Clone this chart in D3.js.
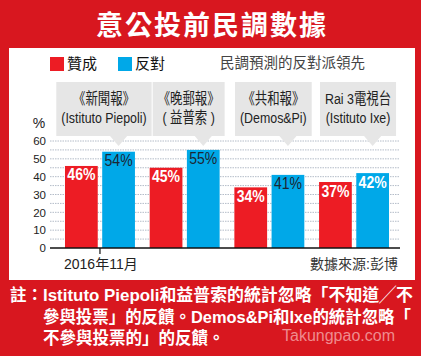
<!DOCTYPE html>
<html><head><meta charset="utf-8">
<script src="https://cdn.jsdelivr.net/npm/d3@7"></script>
<style>body{margin:0;background:#fff}svg{display:block}</style>
</head><body><svg id="c" width="421" height="356"></svg>
<script>
// ---------- data ----------
const title = "意公投前民調數據";
const seriesNames = ["贊成", "反對"];
const legendNote = "民調預測的反對派領先";
const pollNames = ["《新聞報》", "《晚郵報》", "《共和報》", "Rai 3電視台"];
const pollFirms = ["(Istituto Piepoli)", "( 益普索 )", "(Demos&Pi)", "(Istituto Ixe)"];
const forPct = [46, 45, 34, 37];
const againstPct = [54, 55, 41, 42];
const yTicks = [0, 10, 20, 30, 40, 50, 60];
const gridValues = [5, 10, 15, 20, 25, 30, 35, 40, 45, 50, 55, 60];
const unitLabel = "%";
const dateLabel = "2016年11月";
const sourceLabel = "數據來源:彭博";
const noteHead = "註：";
const noteLines = [
  "Istituto Piepoli和益普索的統計忽略「不知道╱不",
  "參與投票」的反饋。Demos&Pi和Ixe的統計忽略「",
  "不參與投票的」的反饋。"
];
const watermark = "Takungpao.com";

// ---------- style ----------
const FONT = "'Liberation Sans', Arial, 'Noto Sans CJK TC', sans-serif";
const RED_BG = "#d8171f", RED = "#ed1c24", BLUE = "#00a8e8", BOX = "#e6e6e6";
const colors = [RED, BLUE];
const lightAgainstLabel = [false, false, false, true];

const svg = d3.select("#c").style("font-family", FONT);
svg.append("rect").attr("width", 421).attr("height", 356).attr("fill", RED_BG);
svg.append("rect").attr("x", 9).attr("y", 48).attr("width", 406).attr("height", 232).attr("fill", "#fff");

// title
svg.append("text").attr("x", 212).attr("y", 35).attr("text-anchor", "middle")
  .attr("fill", "#fff").attr("font-size", 27).attr("font-weight", 700)
  .attr("letter-spacing", 2).attr("font-family", "'Noto Sans CJK TC', sans-serif")
  .text(title);

// scales
const y = d3.scaleLinear().domain([0, 60]).range([248, 141]);
const x0 = d3.scaleBand().domain(d3.range(pollNames.length)).range([50, 404])
  .paddingInner(0.174).paddingOuter(0.177);
const x1 = d3.scaleBand().domain([0, 1]).range([0, x0.bandwidth()]).paddingInner(0.12);

// legend
const leg = svg.append("g");
const legX = [50, 118];
seriesNames.forEach((s, i) => {
  leg.append("rect").attr("x", legX[i]).attr("y", 57).attr("width", 14).attr("height", 14).attr("fill", colors[i]);
  leg.append("text").attr("x", legX[i] + 17).attr("y", 69).attr("font-size", 15).attr("fill", "#111").text(s);
});
leg.append("text").attr("x", 220).attr("y", 68).attr("font-size", 14.5).attr("fill", "#444").text(legendNote);

// grid lines
svg.append("g").selectAll("line").data(gridValues).join("line")
  .attr("x1", 50).attr("x2", 400).attr("y1", d => y(d)).attr("y2", d => y(d))
  .attr("stroke", "#b4bcc8").attr("stroke-width", 1).attr("stroke-dasharray", "1.5,1");

// y axis
const yAxis = svg.append("g").attr("transform", "translate(46,0)")
  .call(d3.axisLeft(y).tickValues(yTicks).tickSize(0).tickPadding(0).tickFormat(d3.format("d")));
yAxis.select(".domain").remove();
yAxis.selectAll("text").attr("font-size", 11.5).attr("font-family", FONT).attr("fill", "#222");
svg.append("text").attr("x", 39).attr("y", 128).attr("text-anchor", "middle")
  .attr("font-size", 14).attr("fill", "#222").text(unitLabel);

// callout boxes
const boxG = svg.append("g");
pollNames.forEach((name, i) => {
  const cx = x0(i) + x0.bandwidth() / 2 + 4;
  const g = boxG.append("g");
  const rect = g.append("rect").attr("fill", BOX);
  const tri = g.append("path").attr("fill", BOX);
  const t1 = g.append("text").attr("transform", `translate(${cx},104) scale(0.8,1)`)
    .attr("text-anchor", "middle").attr("font-size", 15.5).attr("fill", "#222").text(name);
  const t2 = g.append("text").attr("transform", `translate(${cx},123) scale(0.8,1)`)
    .attr("text-anchor", "middle").attr("font-size", 15.5).attr("fill", "#222").text(pollFirms[i]);
  const w = Math.max(t1.node().getComputedTextLength(), t2.node().getComputedTextLength()) * 0.8;
  rect.attr("x", cx - w / 2 - 5).attr("y", 82).attr("width", w + 10).attr("height", 54);
  const px = x0(i) + x1(1) + x1.bandwidth() / 2;
  tri.attr("d", `M${px - 9},135.5L${px + 9},135.5L${px},146Z`);
});

// bars
const bars = svg.append("g");
pollNames.forEach((_, i) => {
  const vals = [forPct[i], againstPct[i]];
  vals.forEach((v, j) => {
    const bx = x0(i) + x1(j);
    bars.append("rect").attr("x", bx).attr("y", y(v)).attr("width", x1.bandwidth())
      .attr("height", y(0) - y(v)).attr("fill", colors[j]);
    const light = j === 0 || lightAgainstLabel[i];
    bars.append("text")
      .attr("transform", `translate(${bx + x1.bandwidth() / 2},${y(v) + 14.5}) scale(0.85,1)`)
      .attr("text-anchor", "middle").attr("font-size", 16.5)
      .attr("font-weight", light ? 700 : 400)
      .attr("fill", light ? "#fff" : "#1d2633").text(v + "%");
  });
});

// x baseline and tick
svg.append("line").attr("x1", 50).attr("x2", 400).attr("y1", y(0)).attr("y2", y(0))
  .attr("stroke", "#111").attr("stroke-width", 1.5);
svg.append("line").attr("x1", x0(0) + x0.bandwidth() / 2).attr("x2", x0(0) + x0.bandwidth() / 2)
  .attr("y1", y(0)).attr("y2", y(0) + 6).attr("stroke", "#111").attr("stroke-width", 1.2);
svg.append("text").attr("x", 64).attr("y", 269).attr("font-size", 14).attr("fill", "#222").text(dateLabel);
svg.append("text").attr("x", 398).attr("y", 269).attr("text-anchor", "end")
  .attr("font-size", 14).attr("fill", "#333").text(sourceLabel);

// watermark
svg.append("text").attr("x", 282).attr("y", 341).attr("font-size", 16)
  .attr("fill", "rgba(255,220,220,0.6)").text(watermark);

// note
const note = svg.append("g").attr("fill", "#fff").attr("font-weight", 700).attr("font-size", 16.5);
note.append("text").attr("x", 10).attr("y", 301).text(noteHead);
const noteW = [370, 368, null];
noteLines.forEach((l, i) => {
  const t = note.append("text").attr("x", 43).attr("y", 301 + i * 21.5).text(l);
  if (noteW[i]) t.attr("textLength", noteW[i]).attr("lengthAdjust", "spacingAndGlyphs");
});
</script></body></html>
